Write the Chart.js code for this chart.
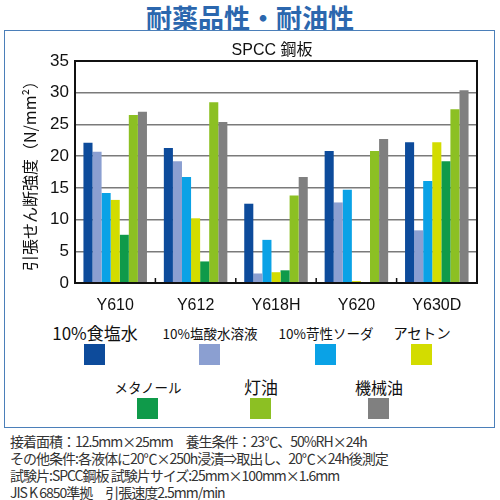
<!DOCTYPE html>
<html>
<head>
<meta charset="utf-8">
<script src="https://cdn.jsdelivr.net/npm/chart.js@4"></script>
<style>
  body { margin: 0; background: #fff; font-family: "Liberation Sans", "Noto Sans CJK JP", sans-serif; }
  #wrap { position: relative; width: 500px; height: 500px; overflow: hidden; }
  #heading { position: absolute; left: 0; top: -2px; width: 500px; text-align: center; font-size: 26px; font-weight: bold; color: #2b67ae; font-family: "Noto Sans CJK JP", sans-serif; }
  #frame { position: absolute; left: 4px; top: 30px; width: 489px; height: 396px; border: 1.5px solid #4b7fb9; }
  #plot { position: absolute; left: 0; top: 0; }
  #sub { position: absolute; left: 0; top: 36px; width: 544px; text-align: center; font-size: 16px; color: #111; }
  .lg { position: absolute; text-align: center; color: #111; font-family: "Noto Sans CJK JP", sans-serif; white-space: nowrap; }
  .lg span { display: block; }
  .lg i { position: absolute; width: 21px; height: 21px; }
  #notes { position: absolute; left: 10px; top: 433px; font-size: 14px; line-height: 17px; color: #333; font-family: "Noto Sans CJK JP", sans-serif; letter-spacing: -1px; }
</style>
</head>
<body>
<div id="wrap">
  <div id="heading">耐薬品性・耐油性</div>
  <div id="frame"></div>
  <canvas id="plot" width="500" height="310"></canvas>
  <div id="sub">SPCC 鋼板</div>
  <div id="legend"></div>
  <div id="notes">
    接着面積：12.5mm×25mm　養生条件：23℃、50%RH×24h<br>
    その他条件:各液体に20℃×250h浸漬⇒取出し、20℃×24h後測定<br>
    試験片:SPCC鋼板 試験片サイズ:25mm×100mm×1.6mm<br>
    JIS K 6850準拠　引張速度2.5mm/min
  </div>
</div>
<script>
// Categories and series
var categories = ["Y610", "Y612", "Y618H", "Y620", "Y630D"];
var seriesNames = ["10%食塩水", "10%塩酸水溶液", "10%苛性ソーダ", "アセトン", "メタノール", "灯油", "機械油"];
var salt      = [22.1, 21.3, 12.5, 20.8, 22.2];
var hcl       = [20.7, 19.2, 1.5, 12.7, 8.3];
var caustic   = [14.2, 16.7, 6.8, 14.7, 16.1];
var acetone   = [13.1, 10.2, 1.7, 0.3, 22.2];
var methanol  = [7.6, 3.4, 2.0, 0, 19.2];
var kerosene  = [26.5, 28.5, 13.8, 20.8, 27.4];
var machineOil = [27.0, 25.4, 16.7, 22.7, 30.4];
var yTicks = [0, 5, 10, 15, 20, 25, 30, 35];

var seriesValues = [salt, hcl, caustic, acetone, methanol, kerosene, machineOil];
var seriesColors = ['#0d4b9b', '#8b9fd1', '#0aa2e6', '#d3dc00', '#0f9a4a', '#8cc023', '#808080'];

// legend slot placement (label centre x, label centre y, font size)
var legendSlots = [
    [95, 333, 17], [210, 333, 13.5], [326, 333, 13.5], [422, 333, 14.5],
    [148, 387, 13.5], [261, 387, 17], [379, 387, 16]
];

var datasets = seriesNames.map(function (name, i) {
    return {
        label: name,
        data: seriesValues[i],
        backgroundColor: seriesColors[i],
        borderWidth: 0,
        categoryPercentage: 0.79,
        barPercentage: 1.0
    };
});

// black box round the plot + small tick marks between categories
var frameBox = {
    id: 'frameBox',
    afterDraw: function (chart) {
        var ctx = chart.ctx, a = chart.chartArea, x = chart.scales.x;
        ctx.save();
        ctx.strokeStyle = '#111';
        ctx.lineWidth = 2;
        ctx.strokeRect(a.left, a.top, a.right - a.left, a.bottom - a.top);
        ctx.lineWidth = 1.5;
        for (var i = 0; i < categories.length - 1; i++) {
            var px = (x.getPixelForTick(i) + x.getPixelForTick(i + 1)) / 2;
            ctx.beginPath();
            ctx.moveTo(px, a.bottom);
            ctx.lineTo(px, a.bottom - 5);
            ctx.stroke();
        }
        ctx.restore();
    }
};

var ctx = document.getElementById('plot').getContext('2d');
var chart = new Chart(ctx, {
    type: 'bar',
    data: { labels: categories, datasets: datasets },
    plugins: [frameBox],
    options: {
        responsive: false,
        animation: false,
        layout: { padding: { top: 61, right: 23, left: 0, bottom: 0 } },
        plugins: { legend: { display: false }, tooltip: { enabled: false } },
        scales: {
            x: {
                grid: { display: false },
                border: { display: false },
                ticks: { color: '#111', padding: 5, font: { size: 16, family: '"Liberation Sans", sans-serif' } },
                afterFit: function (s) { s.height = 27; }
            },
            y: {
                min: 0,
                max: 35,
                afterBuildTicks: function (s) { s.ticks = yTicks.map(function (v) { return { value: v }; }); },
                grid: { color: '#7a7a7a', lineWidth: 1.5, drawTicks: false },
                border: { display: false },
                ticks: { color: '#111', padding: 6, font: { size: 17, family: '"Liberation Sans", sans-serif' } },
                title: {
                    display: true,
                    text: '引張せん断強度（N/mm²）',
                    color: '#111',
                    padding: { top: 20 },
                    font: { size: 16, family: '"Noto Sans CJK JP", sans-serif' }
                },
                afterFit: function (s) { s.width = 75; }
            }
        }
    }
});

// legend: label above a square swatch
var legendEl = document.getElementById('legend');
seriesNames.forEach(function (name, i) {
    var slot = legendSlots[i];
    var item = document.createElement('div');
    item.className = 'lg';
    item.style.left = (slot[0] - 70) + 'px';
    item.style.width = '140px';
    item.style.top = (slot[1] - slot[2] * 0.75) + 'px';
    item.style.fontSize = slot[2] + 'px';
    item.innerHTML = '<span>' + name + '</span>';
    var box = document.createElement('i');
    box.style.background = seriesColors[i];
    box.style.left = '59px';
    box.style.top = (slot[2] * 0.75 + 11) + 'px';
    item.appendChild(box);
    legendEl.appendChild(item);
});
</script>
</body>
</html>
